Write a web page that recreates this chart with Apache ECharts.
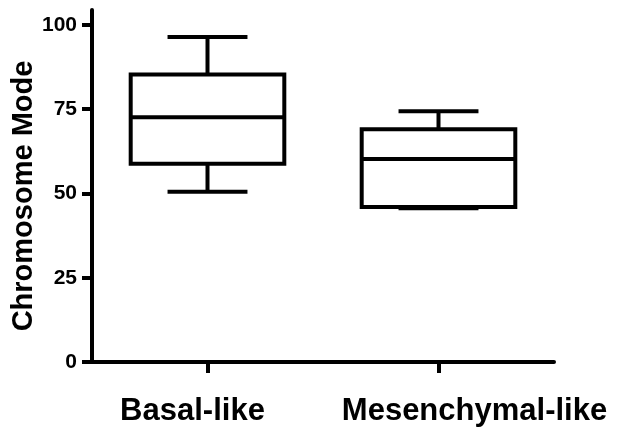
<!DOCTYPE html>
<html><head><meta charset="utf-8">
<script src="https://cdn.jsdelivr.net/npm/echarts@6/dist/echarts.min.js"></script>
<style>html,body{margin:0;padding:0;background:#fff}#c{width:617px;height:435px}</style>
</head><body><div id="c"></div>
<script>
// ---- data ----
const categories = ['Basal-like', 'Mesenchymal-like'];
const whiskerLow  = [50.5, 45.6];
const q1          = [58.8, 46.0];
const median      = [72.6, 60.2];
const q3          = [85.3, 69.0];
const whiskerHigh = [96.4, 74.4];
const yTicks = [0, 25, 50, 75, 100];
const yAxisTitle = 'Chromosome Mode';

// ---- styling ----
const FONT = "'Liberation Sans', Arial, Helvetica, sans-serif";
const LW = 4;
const labelShift = [[0, 30, 0, 0], [0, 0, 0, 72]];

const seriesData = categories.map((c, i) => [i, whiskerLow[i], q1[i], median[i], q3[i], whiskerHigh[i]]);

function renderItem(params, api) {
  const idx = api.value(0);
  const band = api.size([1, 0])[0];
  const boxW = band * 0.665;
  const capW = band * 0.346;
  const pLow = api.coord([idx, api.value(1)]);
  const pQ1 = api.coord([idx, api.value(2)]);
  const pMed = api.coord([idx, api.value(3)]);
  const pQ3 = api.coord([idx, api.value(4)]);
  const pHigh = api.coord([idx, api.value(5)]);
  const cx = pMed[0];
  const st = { stroke: '#000', lineWidth: LW, fill: null, lineCap: 'butt' };
  const line = (x1, y1, x2, y2) => ({ type: 'line', shape: { x1, y1, x2, y2 }, style: st });
  return {
    type: 'group',
    children: [
      line(cx, pQ3[1], cx, pHigh[1]),
      line(cx, pQ1[1], cx, pLow[1]),
      line(cx - capW / 2, pHigh[1], cx + capW / 2, pHigh[1]),
      line(cx - capW / 2, pLow[1], cx + capW / 2, pLow[1]),
      { type: 'rect', shape: { x: cx - boxW / 2, y: pQ3[1], width: boxW, height: pQ1[1] - pQ3[1] },
        style: { stroke: '#000', lineWidth: LW, fill: '#fff', lineJoin: 'miter' } },
      line(cx - boxW / 2, pMed[1], cx + boxW / 2, pMed[1])
    ]
  };
}

const chart = echarts.init(document.getElementById('c'), null, { renderer: 'canvas' });
chart.setOption({
  backgroundColor: '#fff',
  animation: false,
  grid: { left: 92, right: 63, top: 10, bottom: 73, containLabel: false, outerBoundsMode: 'none' },
  xAxis: {
    type: 'category',
    data: categories.map((c, i) => ({ value: c, textStyle: { padding: labelShift[i] } })),
    boundaryGap: true,
    axisLine: { show: true, lineStyle: { color: '#000', width: LW } },
    axisTick: { show: true, interval: 0, alignWithLabel: true, length: 11, lineStyle: { color: '#000', width: LW } },
    axisLabel: { show: true, interval: 0, hideOverlap: false, color: '#000', fontFamily: FONT, fontWeight: 'bold', fontSize: 31, margin: 34 },
    splitLine: { show: false }
  },
  yAxis: {
    type: 'value',
    min: 0,
    max: 104.4,
    name: yAxisTitle,
    nameLocation: 'middle',
    nameGap: 54,
    nameMoveOverlap: false,
    nameTextStyle: { color: '#000', fontFamily: FONT, fontWeight: 'bold', fontSize: 29, padding: [0, 20, 0, 0] },
    axisLine: { show: true, lineStyle: { color: '#000', width: LW } },
    axisTick: { show: true, customValues: yTicks, length: 10, lineStyle: { color: '#000', width: LW } },
    axisLabel: { customValues: yTicks, color: '#000', fontFamily: FONT, fontWeight: 'bold', fontSize: 21, margin: 15, padding: [5, 0, 0, 0] },
    splitLine: { show: false }
  },
  series: [{
    type: 'custom',
    renderItem: renderItem,
    encode: { x: 0, y: [1, 2, 3, 4, 5] },
    data: seriesData,
    clip: false
  }]
});
</script>
</body></html>
